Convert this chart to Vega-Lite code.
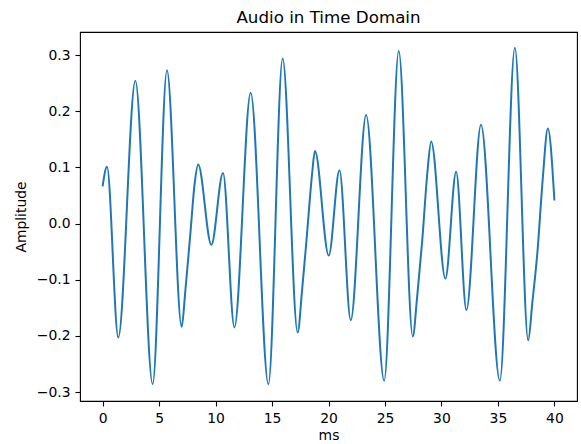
{
  "$schema": "https://vega.github.io/schema/vega-lite/v6.json",
  "width": 497,
  "height": 369,
  "autosize": {"type": "none"},
  "padding": {"left": 80, "top": 32, "right": 4, "bottom": 43},
  "background": "white",
  "title": {
    "text": "Audio in Time Domain",
    "fontSize": 16.7,
    "fontWeight": "normal",
    "font": "DejaVu Sans",
    "color": "black",
    "anchor": "middle",
    "offset": 5
  },
  "config": {
    "view": {"stroke": "black", "strokeWidth": 1.1},
    "axis": {
      "grid": false,
      "domain": false,
      "tickColor": "black",
      "tickSize": 5,
      "tickWidth": 1.1,
      "labelFont": "DejaVu Sans",
      "labelFontSize": 13.9,
      "labelColor": "black",
      "labelPadding": 5,
      "titleFont": "DejaVu Sans",
      "titleFontSize": 13.9,
      "titleFontWeight": "normal",
      "titleColor": "black"
    }
  },
  "data": {
    "values": [
      {"ms": 0, "amp": 0.066},
      {"ms": 0.39, "amp": 0.101},
      {"ms": 1.39, "amp": -0.203},
      {"ms": 2.9, "amp": 0.254},
      {"ms": 4.43, "amp": -0.286},
      {"ms": 5.7, "amp": 0.273},
      {"ms": 7.0, "amp": -0.184},
      {"ms": 7.33, "amp": -0.119},
      {"ms": 7.77, "amp": -0.018},
      {"ms": 8.15, "amp": 0.071},
      {"ms": 8.46, "amp": 0.105},
      {"ms": 9.63, "amp": -0.038},
      {"ms": 10.66, "amp": 0.09},
      {"ms": 11.67, "amp": -0.185},
      {"ms": 13.11, "amp": 0.233},
      {"ms": 14.68, "amp": -0.286},
      {"ms": 15.94, "amp": 0.294},
      {"ms": 17.27, "amp": -0.194},
      {"ms": 17.66, "amp": -0.119},
      {"ms": 18.1, "amp": -0.018},
      {"ms": 18.55, "amp": 0.089},
      {"ms": 18.8, "amp": 0.129},
      {"ms": 20.02, "amp": -0.057},
      {"ms": 20.97, "amp": 0.095},
      {"ms": 21.97, "amp": -0.172},
      {"ms": 23.33, "amp": 0.193},
      {"ms": 24.93, "amp": -0.28},
      {"ms": 26.22, "amp": 0.307},
      {"ms": 27.46, "amp": -0.201},
      {"ms": 27.85, "amp": -0.13},
      {"ms": 28.3, "amp": -0.03},
      {"ms": 28.75, "amp": 0.09},
      {"ms": 29.09, "amp": 0.146},
      {"ms": 30.35, "amp": -0.098},
      {"ms": 31.3, "amp": 0.092},
      {"ms": 32.21, "amp": -0.154},
      {"ms": 33.5, "amp": 0.176},
      {"ms": 35.17, "amp": -0.28},
      {"ms": 36.5, "amp": 0.313},
      {"ms": 37.68, "amp": -0.208},
      {"ms": 38.05, "amp": -0.14},
      {"ms": 38.5, "amp": -0.05},
      {"ms": 38.95, "amp": 0.075},
      {"ms": 39.42, "amp": 0.169},
      {"ms": 40.0, "amp": 0.041}
    ]
  },
  "mark": {"type": "line", "interpolate": "monotone", "color": "#1f77b4", "strokeWidth": 2, "clip": true},
  "encoding": {
    "x": {
      "field": "ms",
      "type": "quantitative",
      "scale": {"domain": [-2, 42], "nice": false, "zero": false},
      "axis": {"values": [0, 5, 10, 15, 20, 25, 30, 35, 40], "format": "d", "title": "ms", "titlePadding": 4}
    },
    "y": {
      "field": "amp",
      "type": "quantitative",
      "scale": {"domain": [-0.316, 0.341], "nice": false, "zero": false},
      "axis": {"values": [-0.3, -0.2, -0.1, 0, 0.1, 0.2, 0.3], "format": ".1f", "title": "Amplitude", "titlePadding": 8}
    }
  }
}
